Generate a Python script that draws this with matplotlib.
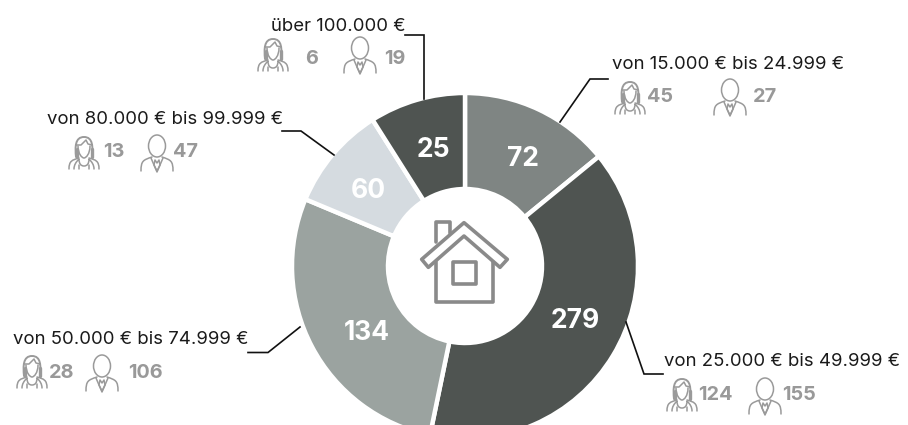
import numpy as np
import matplotlib
matplotlib.use("Agg")
import matplotlib.pyplot as plt
from matplotlib.path import Path
from matplotlib.patches import PathPatch, Ellipse

plt.rcParams['font.family'] = ['Inter', 'DejaVu Sans']

W, H = 908, 425

# slice labels and the angles the slices really take up in the picture
slice_labels = ["72", "279", "134", "60", "25"]
slice_angles = [50.7, 141, 101, 35, 32.3]
slice_colors = ["#7f8583", "#4f5451", "#9ba3a0", "#d5dbe0", "#4f5451"]

bands = ["von 15.000 € bis 24.999 €", "von 25.000 € bis 49.999 €", "von 50.000 € bis 74.999 €",
         "von 80.000 € bis 99.999 €", "über 100.000 €"]
women = [45, 124, 28, 13, 6]
men = [27, 155, 106, 47, 19]

GREY = "#999999"
ICON = "#9a9a9a"

fig = plt.figure(figsize=(W / 100, H / 100), dpi=100)
ax = fig.add_axes([0, 0, 1, 1])


def Y(y):
    return H - y


ax.pie(slice_angles, colors=slice_colors, startangle=90, counterclock=False,
       center=(465, Y(266)), radius=173, frame=True,
       wedgeprops=dict(width=96, edgecolor="white", linewidth=3.2))
ax.set_xlim(0, W); ax.set_ylim(0, H); ax.set_aspect("equal")
ax.axis("off")


def stroke(pts, codes=None, color=ICON, lw=1.1, closed=False, fill="none", ox=0, oy=0):
    pts = [(ox + x, Y(oy + y)) for x, y in pts]
    if codes is None:
        codes = [Path.MOVETO] + [Path.LINETO] * (len(pts) - 1)
    if closed:
        pts = pts + [pts[0]]
        codes = list(codes) + [Path.CLOSEPOLY]
    ax.add_patch(PathPatch(Path(pts, codes), facecolor=fill, edgecolor=color, lw=lw,
                           capstyle="round", joinstyle="round"))


C4 = Path.CURVE4
M = Path.MOVETO
L = Path.LINETO


def man(ox, oy):
    ax.add_patch(Ellipse((ox + 16, Y(oy + 11)), 17, 22, fc="none", ec=ICON, lw=1.1))
    stroke([(0, 36), (0, 26), (2, 25), (11, 22)], [M, C4, C4, C4], ox=ox, oy=oy)
    stroke([(32, 36), (32, 26), (30, 25), (21, 22)], [M, C4, C4, C4], ox=ox, oy=oy)
    stroke([(10, 23), (16, 37), (22, 23)], ox=ox, oy=oy)
    stroke([(14, 25), (16, 28), (18, 25), (19, 30), (16, 36), (13, 30)], ox=ox, oy=oy, closed=True)


def woman(ox, oy):
    # hair
    stroke([(7, 20), (6, 10), (6, 0), (15, 0), (24, 0), (24, 10), (23, 20)],
           [M, C4, C4, C4, C4, C4, C4], ox=ox, oy=oy, lw=1.4)
    stroke([(7, 8), (12, 8), (15, 5), (17, 3), (19, 7), (23, 8)], ox=ox, oy=oy)
    stroke([(9, 9), (9, 17), (13, 21), (15, 21), (17, 21), (21, 17), (21, 9)],
           [M, C4, C4, C4, C4, C4, C4], ox=ox, oy=oy)
    stroke([(7.5, 12), (7.5, 20)], ox=ox, oy=oy, lw=2.4)
    stroke([(22.5, 12), (22.5, 20)], ox=ox, oy=oy, lw=2.4)
    # shoulders
    stroke([(0, 32), (0, 24), (3, 23), (10, 21)], [M, C4, C4, C4], ox=ox, oy=oy)
    stroke([(30, 32), (30, 24), (27, 23), (20, 21)], [M, C4, C4, C4], ox=ox, oy=oy)
    stroke([(5, 32), (5, 28), (7, 25), (10, 22), (10, 27), (12, 29), (15, 29), (18, 29), (20, 27), (20, 22),
            (23, 25), (25, 28), (25, 32)],
           [M, C4, C4, C4, C4, C4, C4, C4, C4, C4, C4, C4, C4], ox=ox, oy=oy)
    stroke([(10, 32), (10, 28)], ox=ox, oy=oy)
    stroke([(20, 32), (20, 28)], ox=ox, oy=oy)


def house():
    ox, oy = 400, 200
    z = lambda pts: [(x / 3, y / 3) for x, y in pts]
    kw = dict(color="#8a8a8a", lw=2.6, ox=ox, oy=oy)
    stroke(z([(65, 178), (192, 68), (322, 178), (300, 202), (192, 108), (85, 202)]), closed=True, **kw)
    stroke(z([(107, 125), (107, 67), (150, 67), (150, 100)]), **kw)
    stroke(z([(107, 185), (107, 305), (280, 305), (280, 185)]), **kw)
    stroke(z([(160, 187), (228, 187), (228, 253), (160, 253)]), closed=True, **kw)


house()

# white numbers on the ring
ring_pos = [(523, 156), (575, 318), (367, 330), (368, 188), (433, 147)]
for lab, (x, y) in zip(slice_labels, ring_pos):
    ax.text(x, Y(y), lab, color="white", fontsize=19, fontweight="bold", ha="center", va="center_baseline")

# leader lines
leaders = [[(608, 79), (590, 79), (560, 122)],
           [(663, 374), (644, 374), (626, 322)],
           [(248, 352.5), (268, 352.5), (300, 327)],
           [(282, 131), (301, 131), (334, 155)],
           [(405, 35), (424, 35), (424, 99)]]
for pts in leaders:
    xs, ys = zip(*pts)
    ax.plot(xs, [Y(v) for v in ys], color="#111111", lw=1.2, solid_joinstyle="miter")

# band label, woman icon + count, man icon + count
label_xy = [(612, 62), (664, 360), (13, 338), (47, 117), (271, 24)]
woman_xy = [(615, 82), (667, 379), (17, 356), (69, 137), (258, 39)]
man_xy = [(714, 79), (749, 378), (86, 355), (141, 135), (344, 37)]
women_xy = [(647, 95), (698, 393), (49, 371), (103, 150), (305, 57)]
men_xy = [(753, 95), (782, 393), (128, 371), (173, 150), (384, 57)]

for i, band in enumerate(bands):
    ax.text(label_xy[i][0], Y(label_xy[i][1]), band, color="#1a1a1a", fontsize=13.35, ha="left",
            va="center_baseline")
    woman(*woman_xy[i])
    man(*man_xy[i])
    ax.text(women_xy[i][0], Y(women_xy[i][1]), str(women[i]), color=GREY, fontsize=14.3, fontweight="bold",
            ha="left", va="center_baseline")
    ax.text(men_xy[i][0], Y(men_xy[i][1]), str(men[i]), color=GREY, fontsize=14.3, fontweight="bold",
            ha="left", va="center_baseline")

fig.savefig("out.png", dpi=100)
